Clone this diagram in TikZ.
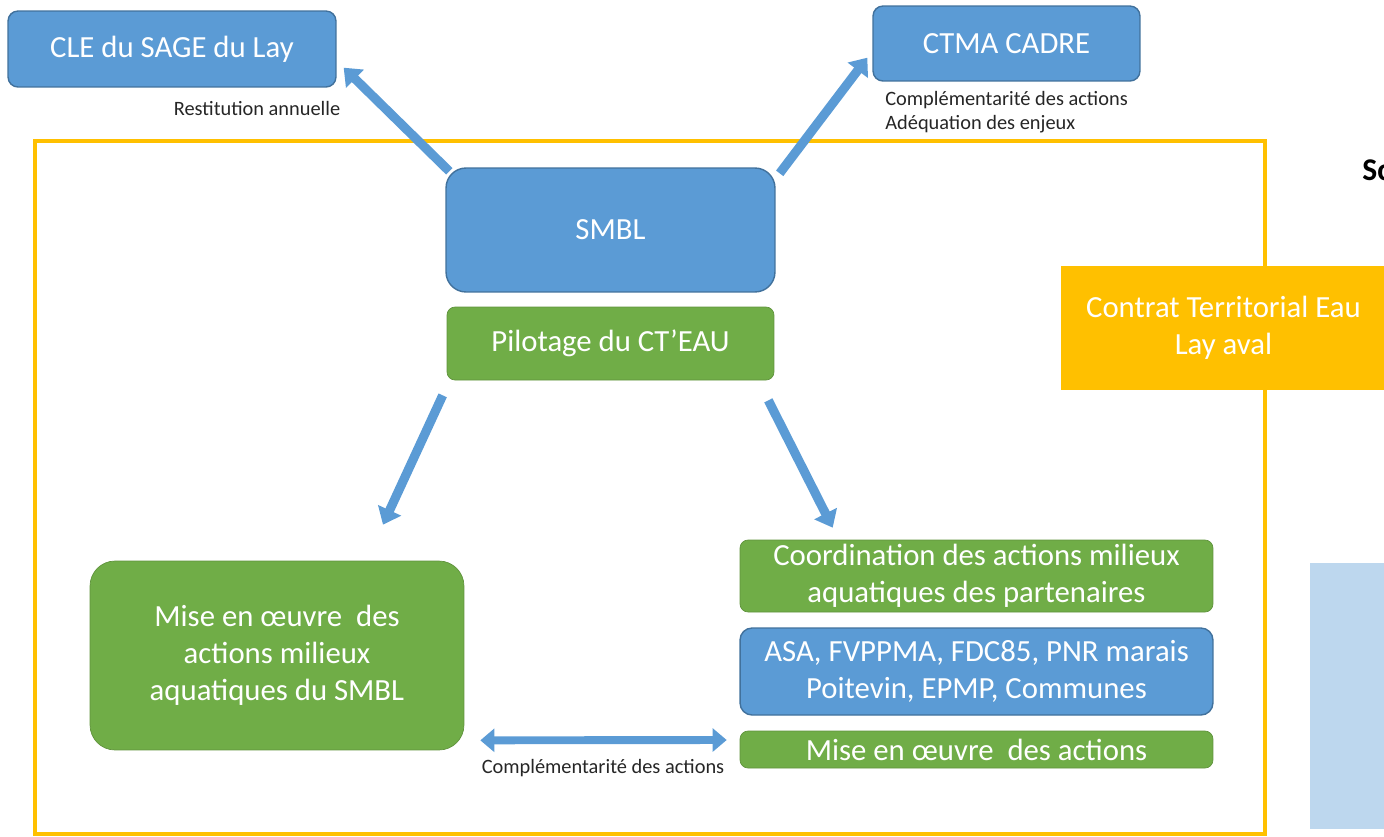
\documentclass[tikz,border=0pt]{standalone}
\usepackage{fontspec}
\setmainfont{Carlito}
\usepackage{tikz}
\usetikzlibrary{arrows.meta,positioning,calc}
\definecolor{smblblue}{HTML}{5B9BD5}
\definecolor{smbledge}{HTML}{41719C}
\definecolor{smblgreen}{HTML}{70AD47}
\definecolor{smblorange}{HTML}{FFC000}
\definecolor{smbllight}{HTML}{BDD7EE}
\definecolor{smbltext}{HTML}{262626}
\tikzstyle{bluebox} = [rectangle, fill=smblblue, draw=smbledge, line width=0.8pt, text=white, align=center, inner sep=0pt, font=\fontsize{17.5}{21}\selectfont]
\tikzstyle{greenbox} = [rectangle, fill=smblgreen, draw=smblgreen!85!black, line width=0.4pt, text=white, align=center, inner sep=0pt, rounded corners=0.16cm, font=\fontsize{17.5}{21}\selectfont]
\tikzstyle{smalltext} = [text=smbltext, font=\fontsize{11.6}{13.6}\selectfont, inner sep=0pt]
\tikzstyle{blockarrow} = [-{Triangle[width=14pt,length=9pt]}, line width=5.2pt, smblblue]
\tikzstyle{twoarrow} = [{Triangle[width=13pt,length=8pt]}-{Triangle[width=13pt,length=8pt]}, line width=4.5pt, smblblue]

\begin{document}
\begin{tikzpicture}[x=0.02cm, y=-0.02cm]
\useasboundingbox (0,0) rectangle (1384,836);
\clip (0,0) rectangle (1384,836);

% frame and side boxes
\fill[smbllight] (1310,563) rectangle (1390,829);
\draw[smblorange, line width=2.8pt] (35,141) rectangle (1265,834);
\node[rectangle, fill=smblorange, minimum width=6.8cm, minimum height=2.48cm, text=white, align=center, inner sep=0pt, font=\fontsize{17.5}{21}\selectfont] (ctea) at (1231,328) {\hspace*{-0.3cm}Contrat Territorial Eau\\\hspace*{-0.3cm}Lay aval};
\node[anchor=west, inner sep=0pt, font=\bfseries\fontsize{18}{21}\selectfont] (cut) at (1362,170) {Sc};

% top boxes
\node[bluebox, rounded corners=0.2cm, minimum width=6.56cm, minimum height=1.52cm] (cle) at (172,49) {CLE du SAGE du Lay};
\node[bluebox, rounded corners=0.2cm, minimum width=5.34cm, minimum height=1.5cm] (ctma) at (1006.5,43.5) {CTMA CADRE};
\node[smalltext] (restit) at (257,108) {Restitution annuelle};
\node[smalltext, anchor=west, align=left] (compl) at (885,112) {Complémentarité des actions\\Adéquation des enjeux};

% centre
\node[bluebox, rounded corners=0.4cm, minimum width=6.58cm, minimum height=2.48cm] (smbl) at (610.5,230) {SMBL};
\node[greenbox, minimum width=6.54cm, minimum height=1.46cm] (pilot) at (610.5,343.5) {Pilotage du CT’EAU};

% bottom
\node[greenbox, rounded corners=0.5cm, minimum width=7.48cm, minimum height=3.78cm] (mise) at (277,655.5) {Mise en œuvre \ des\\actions milieux\\aquatiques du SMBL};
\node[greenbox, minimum width=9.46cm, minimum height=1.44cm] (coord) at (976.5,576) {Coordination des actions milieux\\aquatiques des partenaires};
\node[bluebox, rounded corners=0.24cm, minimum width=9.46cm, minimum height=1.74cm] (asa) at (976.5,671.5) {ASA, FVPPMA, FDC85, PNR marais\\Poitevin, EPMP, Communes};
\node[greenbox, minimum width=9.46cm, minimum height=0.74cm] (miseact) at (976.5,749.5) {Mise en œuvre \ des actions};
\node[smalltext] (complbas) at (603,768) {Complémentarité des actions};

% arrows
\draw[blockarrow] ($(smbl.north west)+(4,4)$) -- ($(cle.south east)+(7,-20)$);
\draw[blockarrow] ($(smbl.north east)+(4,6)$) -- ($(ctma.south west)+(-5,-24)$);
\draw[blockarrow] ($(pilot.south west)+(-4,15)$) -- ($(mise.north)+(106,-36)$);
\draw[blockarrow] ($(pilot.south east)+(-6,20)$) -- ($(coord.north west)+(93,-12)$);
\draw[twoarrow] ($(mise.south east)+(16,-10)$) -- ($(miseact.west)+(-13,-9.5)$);
\end{tikzpicture}
\end{document}
